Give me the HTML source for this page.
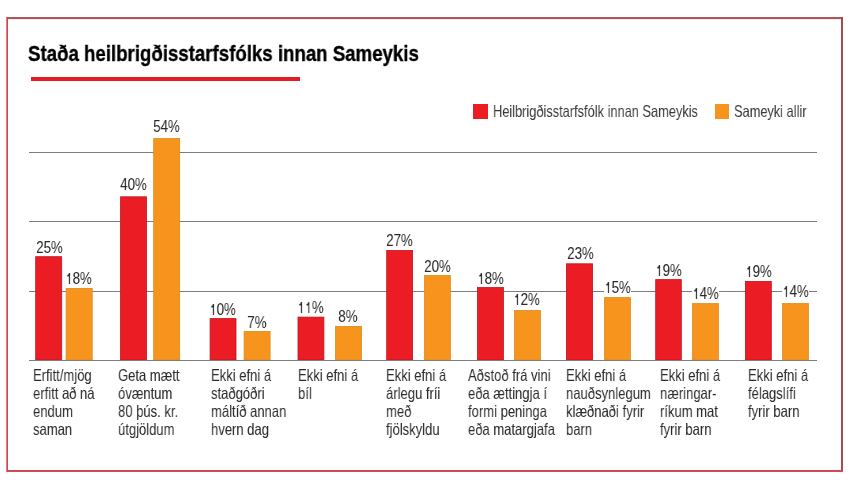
<!DOCTYPE html>
<html><head><meta charset="utf-8"><style>
*{margin:0;padding:0;box-sizing:border-box}
html,body{width:850px;height:487px;background:#fff;overflow:hidden}
body{position:relative;-webkit-font-smoothing:antialiased;font-family:"Liberation Sans",sans-serif;color:#2b2b2b}
svg{position:absolute;left:0;top:0}
.t{position:absolute;white-space:nowrap;transform-origin:0 0;will-change:transform}
.title{left:27.6px;top:42.78px;font-size:22px;line-height:22px;font-weight:bold;color:#000;-webkit-text-stroke:0.35px #000;transform:scaleX(0.848)}
.uline{position:absolute;left:31px;top:77.2px;width:269px;height:3.4px;background:#e31b23}
.sq{position:absolute;width:14.6px;height:14.6px;top:104px}
.leg{font-size:16.5px;line-height:16.5px;top:102.73px;transform:scaleX(0.776);color:#3a3a3a}
.pl{position:absolute;text-align:center;font-size:16.5px;line-height:16.5px;white-space:nowrap}
.wb{position:absolute;height:14px;background:#fff}
.one{display:inline-block;width:0.556em;height:0.69em;position:relative;font-style:normal}
.one svg{position:absolute;left:0;top:0;width:100%;height:100%;fill:#2b2b2b}
.pl span{display:inline-block;will-change:transform;transform:scaleX(0.81);transform-origin:50% 0;margin:0 -20px}
.cat{position:absolute;will-change:transform;font-size:16.5px;line-height:18px;white-space:nowrap;transform:scaleX(0.79);transform-origin:0 0}
</style></head><body>
<svg width="850" height="487" viewBox="0 0 850 487">
<rect x="6" y="17.1" width="837" height="2" fill="#ad4b50"/>
<rect x="841" y="17.1" width="2" height="455" fill="#aa4a4e"/>
<rect x="6" y="470" width="837" height="2" fill="#cd4b57"/>
<rect x="6" y="17.1" width="1" height="455" fill="#ec7680"/>
<rect x="7" y="17.1" width="1" height="455" fill="#c44a56"/>
<rect x="29" y="152" width="788" height="1" fill="#7d7d7d"/>
<rect x="29" y="221" width="788" height="1" fill="#7d7d7d"/>
<rect x="29" y="291" width="788" height="1" fill="#7d7d7d"/>
<rect x="35.70" y="256.70" width="26.00" height="103.30" fill="#ec1c24" stroke="#c0141d" stroke-width="0.8"/>
<rect x="66.10" y="288.40" width="26.10" height="71.60" fill="#f7941d" stroke="#dd8a1c" stroke-width="0.8"/>
<rect x="120.60" y="196.80" width="25.90" height="163.20" fill="#ec1c24" stroke="#c0141d" stroke-width="0.8"/>
<rect x="153.70" y="138.50" width="26.00" height="221.50" fill="#f7941d" stroke="#dd8a1c" stroke-width="0.8"/>
<rect x="210.10" y="318.60" width="25.90" height="41.40" fill="#ec1c24" stroke="#c0141d" stroke-width="0.8"/>
<rect x="244.10" y="331.40" width="26.00" height="28.60" fill="#f7941d" stroke="#dd8a1c" stroke-width="0.8"/>
<rect x="298.00" y="317.10" width="25.90" height="42.90" fill="#ec1c24" stroke="#c0141d" stroke-width="0.8"/>
<rect x="335.50" y="326.40" width="25.90" height="33.60" fill="#f7941d" stroke="#dd8a1c" stroke-width="0.8"/>
<rect x="386.70" y="250.50" width="25.90" height="109.50" fill="#ec1c24" stroke="#c0141d" stroke-width="0.8"/>
<rect x="424.50" y="275.60" width="25.90" height="84.40" fill="#f7941d" stroke="#dd8a1c" stroke-width="0.8"/>
<rect x="477.50" y="287.50" width="25.90" height="72.50" fill="#ec1c24" stroke="#c0141d" stroke-width="0.8"/>
<rect x="514.50" y="310.50" width="25.90" height="49.50" fill="#f7941d" stroke="#dd8a1c" stroke-width="0.8"/>
<rect x="566.40" y="263.80" width="26.20" height="96.20" fill="#ec1c24" stroke="#c0141d" stroke-width="0.8"/>
<rect x="604.50" y="297.60" width="25.90" height="62.40" fill="#f7941d" stroke="#dd8a1c" stroke-width="0.8"/>
<rect x="655.70" y="279.60" width="25.60" height="80.40" fill="#ec1c24" stroke="#c0141d" stroke-width="0.8"/>
<rect x="692.50" y="303.60" width="25.90" height="56.40" fill="#f7941d" stroke="#dd8a1c" stroke-width="0.8"/>
<rect x="745.40" y="281.40" width="25.90" height="78.60" fill="#ec1c24" stroke="#c0141d" stroke-width="0.8"/>
<rect x="782.50" y="303.50" width="25.90" height="56.50" fill="#f7941d" stroke="#dd8a1c" stroke-width="0.8"/>
<rect x="29" y="360" width="788" height="1" fill="#7d7d7d"/>
</svg>
<div class="t title">Staða heilbrigðisstarfsfólks innan Sameykis</div>
<div class="uline"></div>
<div class="sq" style="left:473.2px;background:#ec1c24"></div>
<div class="t leg" style="left:493.4px">Heilbrigðisstarfsfólk innan Sameykis</div>
<div class="sq" style="left:714.5px;background:#f7941d"></div>
<div class="t leg" style="left:734.2px">Sameyki allir</div>
<div class="wb" style="left:35.30px;width:26.80px;top:240.00px"></div>
<div class="pl" style="left:36.60px;width:26.80px;top:238.53px"><span>25%</span></div>
<div class="wb" style="left:65.70px;width:26.90px;top:271.40px"></div>
<div class="pl" style="left:64.60px;width:26.90px;top:269.93px"><span><i class="one"><svg viewBox="0 0 556 690" preserveAspectRatio="none"><path d="M290 0H370V690H290V195C250 205 200 210 150 210V130C210 125 265 85 290 0Z"/></svg></i>8%</span></div>
<div class="wb" style="left:120.20px;width:26.70px;top:177.40px"></div>
<div class="pl" style="left:120.20px;width:26.70px;top:175.93px"><span>40%</span></div>
<div class="wb" style="left:153.30px;width:26.80px;top:119.90px"></div>
<div class="pl" style="left:153.30px;width:26.80px;top:118.43px"><span>54%</span></div>
<div class="wb" style="left:209.70px;width:26.70px;top:302.30px"></div>
<div class="pl" style="left:208.70px;width:26.70px;top:300.83px"><span><i class="one"><svg viewBox="0 0 556 690" preserveAspectRatio="none"><path d="M290 0H370V690H290V195C250 205 200 210 150 210V130C210 125 265 85 290 0Z"/></svg></i>0%</span></div>
<div class="wb" style="left:243.70px;width:26.80px;top:315.20px"></div>
<div class="pl" style="left:243.70px;width:26.80px;top:313.73px"><span>7%</span></div>
<div class="wb" style="left:297.60px;width:26.70px;top:300.90px"></div>
<div class="pl" style="left:297.60px;width:26.70px;top:299.43px"><span><i class="one"><svg viewBox="0 0 556 690" preserveAspectRatio="none"><path d="M290 0H370V690H290V195C250 205 200 210 150 210V130C210 125 265 85 290 0Z"/></svg></i><i class="one"><svg viewBox="0 0 556 690" preserveAspectRatio="none"><path d="M290 0H370V690H290V195C250 205 200 210 150 210V130C210 125 265 85 290 0Z"/></svg></i>%</span></div>
<div class="wb" style="left:335.10px;width:26.70px;top:309.20px"></div>
<div class="pl" style="left:334.70px;width:26.70px;top:307.73px"><span>8%</span></div>
<div class="wb" style="left:386.30px;width:26.70px;top:233.90px"></div>
<div class="pl" style="left:386.60px;width:26.70px;top:232.43px"><span>27%</span></div>
<div class="wb" style="left:424.10px;width:26.70px;top:259.20px"></div>
<div class="pl" style="left:423.70px;width:26.70px;top:257.73px"><span>20%</span></div>
<div class="wb" style="left:477.10px;width:26.70px;top:271.20px"></div>
<div class="pl" style="left:476.80px;width:26.70px;top:269.73px"><span><i class="one"><svg viewBox="0 0 556 690" preserveAspectRatio="none"><path d="M290 0H370V690H290V195C250 205 200 210 150 210V130C210 125 265 85 290 0Z"/></svg></i>8%</span></div>
<div class="wb" style="left:514.10px;width:26.70px;top:292.20px"></div>
<div class="pl" style="left:513.10px;width:26.70px;top:290.73px"><span><i class="one"><svg viewBox="0 0 556 690" preserveAspectRatio="none"><path d="M290 0H370V690H290V195C250 205 200 210 150 210V130C210 125 265 85 290 0Z"/></svg></i>2%</span></div>
<div class="wb" style="left:566.00px;width:27.00px;top:246.50px"></div>
<div class="pl" style="left:566.70px;width:27.00px;top:245.03px"><span>23%</span></div>
<div class="wb" style="left:604.10px;width:26.70px;top:280.20px"></div>
<div class="pl" style="left:604.10px;width:26.70px;top:278.73px"><span><i class="one"><svg viewBox="0 0 556 690" preserveAspectRatio="none"><path d="M290 0H370V690H290V195C250 205 200 210 150 210V130C210 125 265 85 290 0Z"/></svg></i>5%</span></div>
<div class="wb" style="left:655.30px;width:26.40px;top:263.40px"></div>
<div class="pl" style="left:655.30px;width:26.40px;top:261.93px"><span><i class="one"><svg viewBox="0 0 556 690" preserveAspectRatio="none"><path d="M290 0H370V690H290V195C250 205 200 210 150 210V130C210 125 265 85 290 0Z"/></svg></i>9%</span></div>
<div class="wb" style="left:692.10px;width:26.70px;top:286.20px"></div>
<div class="pl" style="left:691.70px;width:26.70px;top:284.73px"><span><i class="one"><svg viewBox="0 0 556 690" preserveAspectRatio="none"><path d="M290 0H370V690H290V195C250 205 200 210 150 210V130C210 125 265 85 290 0Z"/></svg></i>4%</span></div>
<div class="wb" style="left:745.00px;width:26.70px;top:264.60px"></div>
<div class="pl" style="left:745.00px;width:26.70px;top:263.13px"><span><i class="one"><svg viewBox="0 0 556 690" preserveAspectRatio="none"><path d="M290 0H370V690H290V195C250 205 200 210 150 210V130C210 125 265 85 290 0Z"/></svg></i>9%</span></div>
<div class="wb" style="left:782.10px;width:26.70px;top:284.40px"></div>
<div class="pl" style="left:782.10px;width:26.70px;top:282.93px"><span><i class="one"><svg viewBox="0 0 556 690" preserveAspectRatio="none"><path d="M290 0H370V690H290V195C250 205 200 210 150 210V130C210 125 265 85 290 0Z"/></svg></i>4%</span></div>
<div class="cat" style="left:33.40px;top:365.88px">Erfitt/mjög<br>erfitt að ná<br>endum<br>saman</div>
<div class="cat" style="left:118.40px;top:365.88px">Geta mætt<br>óvæntum<br>80 þús. kr.<br>útgjöldum</div>
<div class="cat" style="left:211.00px;top:365.88px">Ekki efni á<br>staðgóðri<br>máltíð annan<br>hvern dag</div>
<div class="cat" style="left:298.30px;top:365.88px">Ekki efni á<br>bíl</div>
<div class="cat" style="left:386.30px;top:365.88px">Ekki efni á<br>árlegu fríi<br>með<br>fjölskyldu</div>
<div class="cat" style="left:467.60px;top:365.88px">Aðstoð frá vini<br>eða ættingja í<br>formi peninga<br>eða matargjafa</div>
<div class="cat" style="left:566.30px;top:365.88px">Ekki efni á<br>nauðsynlegum<br>klæðnaði fyrir<br>barn</div>
<div class="cat" style="left:659.70px;top:365.88px">Ekki efni á<br>næringar-<br>ríkum mat<br>fyrir barn</div>
<div class="cat" style="left:748.00px;top:365.88px">Ekki efni á<br>félagslífi<br>fyrir barn</div>
</body></html>
